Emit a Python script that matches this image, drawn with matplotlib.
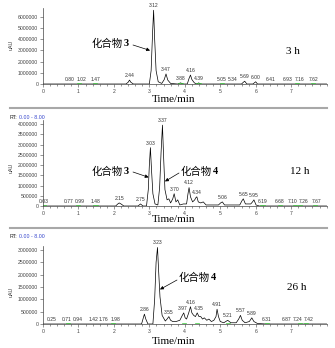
import matplotlib
matplotlib.use("Agg")
import matplotlib.pyplot as plt
import numpy as np

# chromatogram traces (time in min, signal in millions of uAU)
t_3h = [0, 2.34, 2.40, 2.44, 2.48, 2.55, 3.00, 3.05, 3.09, 3.12, 3.15, 3.19, 3.25, 3.35,
        3.42, 3.47, 3.52, 3.60, 3.80, 3.88, 3.95, 4.07, 4.12, 4.16, 4.20, 4.27, 4.34,
        4.39, 4.45, 5.60, 5.65, 5.69, 5.75, 5.92, 5.96, 6.00, 6.05, 8.0]
s_3h = [0, 0, 0.15, 0.35, 0.15, 0, 0, 1.2, 4.5, 6.6, 4.0, 1.2, 0.2, 0.05,
        0.4, 0.9, 0.35, 0.05, 0, 0.1, 0, 0, 0.5, 0.8, 0.4, 0.1, 0,
        0.1, 0, 0, 0.15, 0.25, 0, 0, 0.1, 0.2, 0, 0]

t_12h = [0, 2.05, 2.11, 2.15, 2.20, 2.28, 2.68, 2.75, 2.82, 2.92, 2.97, 3.00, 3.03, 3.06,
         3.10, 3.16, 3.24, 3.29, 3.33, 3.37, 3.40, 3.44, 3.50, 3.55, 3.60, 3.66, 3.70,
         3.75, 3.80, 3.86, 3.96, 4.05, 4.09, 4.12, 4.16, 4.22, 4.28, 4.31, 4.34, 4.38,
         4.45, 4.52, 4.60, 4.95, 5.01, 5.06, 5.12, 5.55, 5.61, 5.65, 5.71, 5.86, 5.91,
         5.95, 6.01, 6.10, 8.0]
s_12h = [0, 0, 0.1, 0.15, 0.1, 0, 0, 0.1, 0, 0, 0.8, 2.0, 2.85, 1.8,
         0.6, 0.1, 0.05, 0.9, 2.6, 3.95, 2.5, 0.8, 0.3, 0.35, 0.15, 0.35, 0.6,
         0.2, 0.3, 0.05, 0.1, 0.1, 0.6, 0.9, 0.45, 0.2, 0.3, 0.4, 0.45, 0.2,
         0.15, 0.2, 0.05, 0.05, 0.15, 0.2, 0.05, 0.05, 0.25, 0.35, 0.1, 0.1, 0.2,
         0.3, 0.05, 0, 0]

t_26h = [0, 2.78, 2.83, 2.86, 2.90, 2.96, 3.10, 3.15, 3.19, 3.23, 3.26, 3.30, 3.36, 3.45,
         3.50, 3.55, 3.60, 3.66, 3.75, 3.86, 3.93, 3.97, 4.01, 4.05, 4.11, 4.16, 4.20,
         4.25, 4.30, 4.35, 4.40, 4.45, 4.50, 4.55, 4.62, 4.68, 4.75, 4.82, 4.88, 4.91,
         4.95, 5.00, 5.10, 5.21, 5.30, 5.45, 5.52, 5.57, 5.62, 5.70, 5.82, 5.89, 5.95,
         6.05, 6.30, 8.0]
s_26h = [0, 0, 0.25, 0.4, 0.2, 0, 0, 1.0, 2.5, 3.1, 2.2, 1.1, 0.35, 0.12,
         0.2, 0.3, 0.15, 0.1, 0.1, 0.15, 0.35, 0.45, 0.25, 0.2, 0.45, 0.7, 0.45,
         0.35, 0.3, 0.45, 0.3, 0.3, 0.2, 0.25, 0.15, 0.2, 0.1, 0.15, 0.3, 0.6,
         0.3, 0.1, 0.05, 0.15, 0.05, 0.05, 0.2, 0.35, 0.15, 0.05, 0.1, 0.25, 0.1,
         0.02, 0, 0]

# retention-time labels
rt_3h = ["0.80", "1.02", "1.47", "2.44", "3.12", "3.47", "3.88", "4.16", "4.39",
         "5.05", "5.34", "5.69", "6.00", "6.41", "6.93", "7.16", "7.62"]
rt_12h = ["0.03", "0.77", "0.99", "1.48", "2.15", "2.75", "3.03", "3.37", "3.70", "4.12",
          "4.34", "5.06", "5.65", "5.95", "6.19", "6.68", "7.10", "7.26", "7.67"]
rt_26h = ["0.25", "0.71", "0.94", "1.42", "1.76", "1.98", "2.86", "3.23", "3.55", "3.97",
          "4.16", "4.35", "4.91", "5.21", "5.57", "5.89", "6.31", "6.87", "7.24", "7.42"]

# labels that have a green baseline mark
green_3h = ["1.02", "1.47", "3.88", "4.39", "5.05", "7.16", "7.62"]
green_12h = ["0.03", "0.99", "1.48", "6.19", "6.68", "7.10", "7.26", "7.67"]
green_26h = ["0.71", "1.98", "3.97", "4.35", "5.21", "6.31", "7.24", "7.42"]

# sideways nudges (pixels) so crowded labels don't collide
nudge_3h = {"0.80": -1.5, "1.02": 2.5, "6.93": -1.5, "7.16": 2.5}
nudge_12h = {"0.77": -1.5, "0.99": 2, "7.10": -2.5, "7.26": 3, "7.67": 2}
nudge_26h = {"0.71": -1.5, "0.94": 1.5, "1.76": -2, "1.98": 2, "3.97": -1.5,
             "4.35": 2, "7.24": -2.5, "7.42": 3}

yticks_3h = [0, 1000000, 2000000, 3000000, 4000000, 5000000, 6000000]
yticks_12h = [0, 500000, 1000000, 1500000, 2000000, 2500000, 3000000, 3500000, 4000000]
yticks_26h = [0, 500000, 1000000, 1500000, 2000000, 2500000, 3000000]

W, H = 335, 348
fig = plt.figure(figsize=(W / 100, H / 100), dpi=100)
cjk = ["Noto Sans CJK SC", "DejaVu Sans"]
small = ["Liberation Sans Narrow", "Liberation Sans"]


def fx(px):
    return px / W


def fy(py):
    return 1 - py / H


def make_panel(top, bottom, ymax, t, s, labels, greens, nudge, yticks):
    ax = fig.add_axes([fx(43), fy(bottom), fx(326.6) - fx(43), fy(top) - fy(bottom)])
    s = np.array(s) * 1e6
    ax.plot(t, s, color="black", lw=0.5)
    ax.set_xlim(0, 8)
    ax.set_ylim(0, ymax)
    for sp in ["top", "right"]:
        ax.spines[sp].set_visible(False)
    for sp in ["left", "bottom"]:
        ax.spines[sp].set_linewidth(0.5)
        ax.spines[sp].set_color("#444444")
    ax.set_xticks(range(8))
    ax.set_xticks(np.arange(0, 8.01, 0.2), minor=True)
    ax.set_yticks(yticks)
    ax.set_yticklabels([str(v) for v in yticks])
    ax.tick_params(axis="both", which="major", labelsize=3.7, length=2, width=0.4,
                   pad=1.5, colors="#444444")
    ax.tick_params(axis="x", which="minor", length=1.3, width=0.4, colors="#444444")
    for lab in ax.get_xticklabels() + ax.get_yticklabels():
        lab.set_family(small)
    for lab in labels:
        x = float(lab)
        yv = np.interp(x, t, s)
        ax.annotate(lab, xy=(x, yv), xytext=(nudge.get(lab, 0) * 0.72, 1.5),
                    textcoords="offset points", ha="center", va="bottom",
                    fontsize=3.6, color="#333333", family=small)
        if lab in greens:
            ax.plot([x - 0.06, x + 0.06], [ymax * 0.012] * 2, color="#33cc33", lw=0.5)
    return ax


ax1 = make_panel(8, 84, 6.8e6, t_3h, s_3h, rt_3h, green_3h, nudge_3h, yticks_3h)
ax2 = make_panel(120, 206, 4.2e6, t_12h, s_12h, rt_12h, green_12h, nudge_12h, yticks_12h)
ax3 = make_panel(246, 324, 3.16e6, t_26h, s_26h, rt_26h, green_26h, nudge_26h, yticks_26h)

# separators
for py in [108, 228]:
    fig.add_artist(plt.Line2D([fx(10), fx(327)], [fy(py), fy(py)], color="#a8a8a8", lw=1.5))

# RT range captions
for py in [117, 237]:
    fig.text(fx(10), fy(py), "RT:", fontsize=3.8, va="center", color="#222222", family=small)
    fig.text(fx(19), fy(py), "0.00 - 8.00", fontsize=3.8, va="center", color="#3344cc",
             family=small)

# y labels
for py in [45, 168, 292]:
    fig.text(fx(11), fy(py), "uAU", fontsize=3.8, rotation=90, ha="center", va="center",
             color="#333333", family=small)

# x labels
for py in [100, 220, 342]:
    fig.text(fx(174), fy(py), "Time/min", fontsize=8, family="Liberation Serif",
             ha="center", va="center")

# time labels
for px, py, lab in [(293, 52, "3 h"), (300, 172, "12 h"), (297, 288, "26 h")]:
    fig.text(fx(px), fy(py), lab, fontsize=8, family="Liberation Serif",
             ha="center", va="center")


def compound(ax, x0, py, num, start, tip):
    fig.text(fx(x0), fy(py), "化合物", fontsize=7.5, family=cjk, va="center", ha="left")
    fig.text(fx(x0 + 31.5), fy(py), num, fontsize=7.5, family="Liberation Serif",
             weight="bold", va="center", ha="left")
    ax.annotate("", xy=tip, xycoords="data", xytext=(fx(start[0]), fy(start[1])),
                textcoords="figure fraction",
                arrowprops=dict(arrowstyle="-|>", lw=0.5, color="black", mutation_scale=5,
                                shrinkA=0, shrinkB=0))


compound(ax1, 92, 44, "3", (133, 45), (3.02, 3.0e6))
compound(ax2, 92, 172, "3", (133, 172), (2.98, 1.4e6))
compound(ax2, 181, 172, "4", (179, 173), (3.44, 1.2e6))
compound(ax3, 179, 278, "4", (177, 280), (3.30, 1.4e6))

fig.savefig("out.png", dpi=100)
